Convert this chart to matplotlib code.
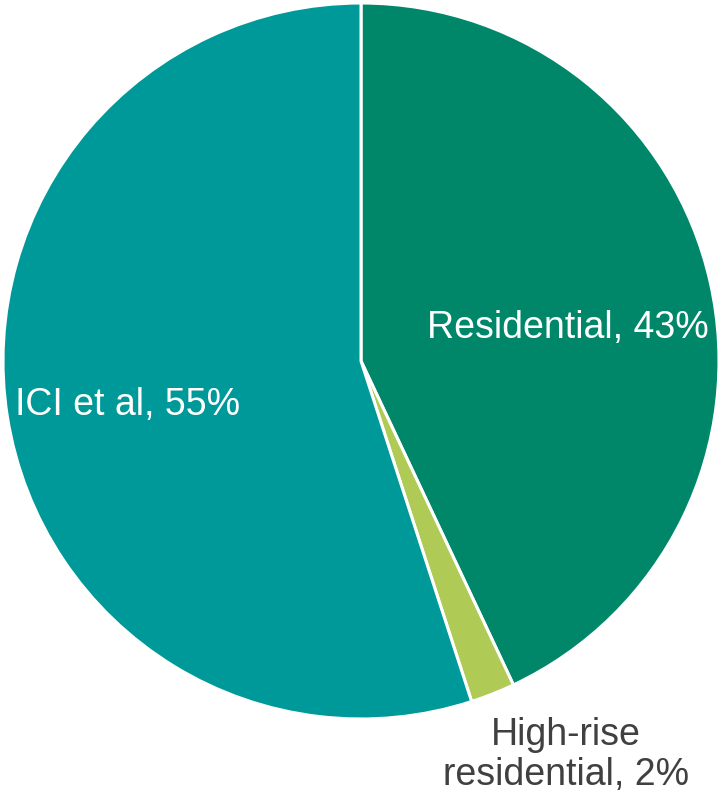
import numpy as np
import matplotlib.pyplot as plt

labels = ["Residential, 43%", "High-rise\nresidential, 2%", "ICI et al, 55%"]
shares = [43, 2, 55]
colors = ["#00876A", "#B0CB55", "#009999"]
text_colors = ["white", "#404040", "white"]

plt.rcParams['font.family'] = ['Liberation Sans', 'DejaVu Sans']

fig = plt.figure(figsize=(7.22, 7.93), dpi=100)
ax = fig.add_axes([0, 0, 1, 1])
ax.set_xlim(0, 722)
ax.set_ylim(0, 793)
ax.set_aspect('equal')
ax.axis('off')

cx, cy, r = 361, 432, 358
wedges, _ = ax.pie(shares, colors=colors, startangle=90, counterclock=False,
                   center=(cx, cy), radius=r, frame=True,
                   wedgeprops=dict(edgecolor='white', linewidth=2.2))
ax.set_xlim(0, 722)
ax.set_ylim(0, 793)
ax.axis('off')

# label offsets from the centre, in radius units
offsets = [(0.578, 0.092), (0.573, -1.10), (-0.651, -0.123)]
for lab, (dx, dy), tc in zip(labels, offsets, text_colors):
    ax.text(cx + dx * r, cy + dy * r, lab, color=tc, fontsize=27,
            ha='center', va='center', linespacing=1.15)

fig.savefig("out.png", dpi=100)
